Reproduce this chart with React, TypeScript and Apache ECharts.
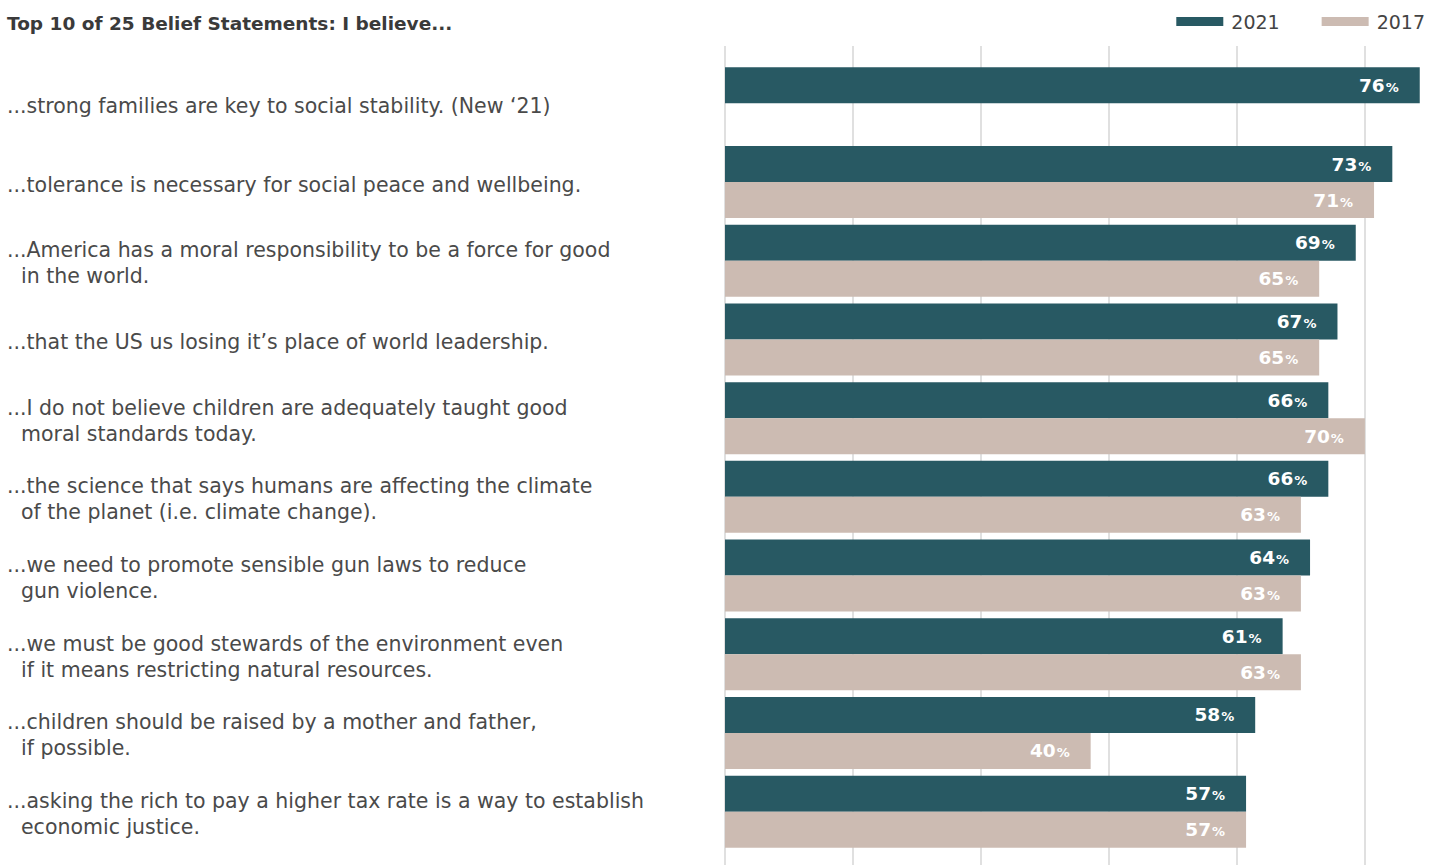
import React, { useEffect, useRef } from "react";
import * as echarts from "echarts";

const TITLE = "Top 10 of 25 Belief Statements: I believe...";
const SERIES_NAMES = ["2021", "2017"];
const CATEGORIES = [
  "...strong families are key to social stability. (New \u201821)",
  "...tolerance is necessary for social peace and wellbeing.",
  "...America has a moral responsibility to be a force for good\nin the world.",
  "...that the US us losing it\u2019s place of world leadership.",
  "...I do not believe children are adequately taught good\nmoral standards today.",
  "...the science that says humans are affecting the climate\nof the planet (i.e. climate change).",
  "...we need to promote sensible gun laws to reduce\ngun violence.",
  "...we must be good stewards of the environment even\nif it means restricting natural resources.",
  "...children should be raised by a mother and father,\nif possible.",
  "...asking the rich to pay a higher tax rate is a way to establish\neconomic justice.",
];
const VALUES_2021 = [76, 73, 69, 67, 66, 66, 64, 61, 58, 57];
const VALUES_2017: (number | null)[] = [null, 71, 65, 65, 70, 63, 63, 63, 40, 57];

const COLOR_2021 = "#285963";
const COLOR_2017 = "#ccbbb2";
const FONT = "'DejaVu Sans', sans-serif";

export default function App() {
  const ref = useRef<HTMLDivElement>(null);
  useEffect(() => {
    if (!ref.current) return;
    const chart = echarts.init(ref.current, undefined, { renderer: "svg" });
    const barLabel = {
      show: true,
      position: "insideRight" as const,
      distance: 21,
      formatter: (p: any) => `{v|${p.value}}{p|%}`,
      rich: {
        v: { color: "#fff", fontSize: 18.5, fontWeight: "bold", fontFamily: FONT },
        p: { color: "#fff", fontSize: 13, fontWeight: "bold", fontFamily: FONT, padding: [4, 0, 0, 1] },
      },
    };
    chart.setOption({
      animation: false,
      textStyle: { fontFamily: FONT },
      title: {
        text: TITLE,
        left: 2,
        top: 9,
        textStyle: { fontSize: 18.5, fontWeight: "bold", color: "#3a3a3a", fontFamily: FONT },
      },
      legend: {
        data: SERIES_NAMES,
        right: 19,
        top: 7,
        icon: "rect",
        itemWidth: 47,
        itemHeight: 9,
        itemGap: 42,
        textStyle: { fontSize: 19, color: "#444", fontFamily: FONT, padding: [0, 0, 0, 3] },
      },
      grid: [
        { left: 725, right: 0, top: 64, bottom: 14 },
        { left: 725, right: 0, top: 46, bottom: 0 },
      ],
      xAxis: [
        {
          gridIndex: 0,
          type: "value",
          min: 0,
          max: 79.2,
          interval: 14,
          axisLabel: { show: false },
          axisLine: { show: false },
          axisTick: { show: false },
          splitLine: { show: false },
        },
        {
          gridIndex: 1,
          type: "value",
          min: 0,
          max: 79.2,
          interval: 14,
          axisLabel: { show: false },
          axisLine: { show: false },
          axisTick: { show: false },
          splitLine: { show: true, showMaxLine: false, lineStyle: { color: "#d6d6d6", width: 1.5 } },
        },
      ],
      yAxis: [
        {
          gridIndex: 0,
          type: "category",
          inverse: true,
          data: CATEGORIES,
          axisLine: { show: false },
          axisTick: { show: false },
          splitLine: { show: false },
          axisLabel: {
            margin: 718,
            align: "left",
            padding: [5, 0, 0, 0],
            formatter: (v: string) =>
              v
                .split("\n")
                .map((line, i) => (i === 0 ? `{a|${line}}` : `{b|${line}}`))
                .join("\n"),
            rich: {
              a: { fontSize: 20.5, color: "#4a4a4a", lineHeight: 26, fontFamily: FONT },
              b: { fontSize: 20.5, color: "#4a4a4a", lineHeight: 26, fontFamily: FONT, padding: [0, 0, 0, 14] },
            },
          },
        },
        { gridIndex: 1, type: "value", min: 0, max: 1, show: false },
      ],
      series: [
        {
          name: SERIES_NAMES[0],
          type: "bar",
          xAxisIndex: 0,
          yAxisIndex: 0,
          data: VALUES_2021,
          barWidth: 36,
          barGap: "0%",
          itemStyle: { color: COLOR_2021 },
          label: barLabel,
        },
        {
          name: SERIES_NAMES[1],
          type: "bar",
          xAxisIndex: 0,
          yAxisIndex: 0,
          data: VALUES_2017,
          barWidth: 36,
          barGap: "0%",
          itemStyle: { color: COLOR_2017 },
          label: barLabel,
        },
      ],
    });
    return () => chart.dispose();
  }, []);
  return (
    <div
      ref={ref}
      style={{ position: "fixed", left: 0, top: 0, width: 1449, height: 865, background: "#fff" }}
    />
  );
}
